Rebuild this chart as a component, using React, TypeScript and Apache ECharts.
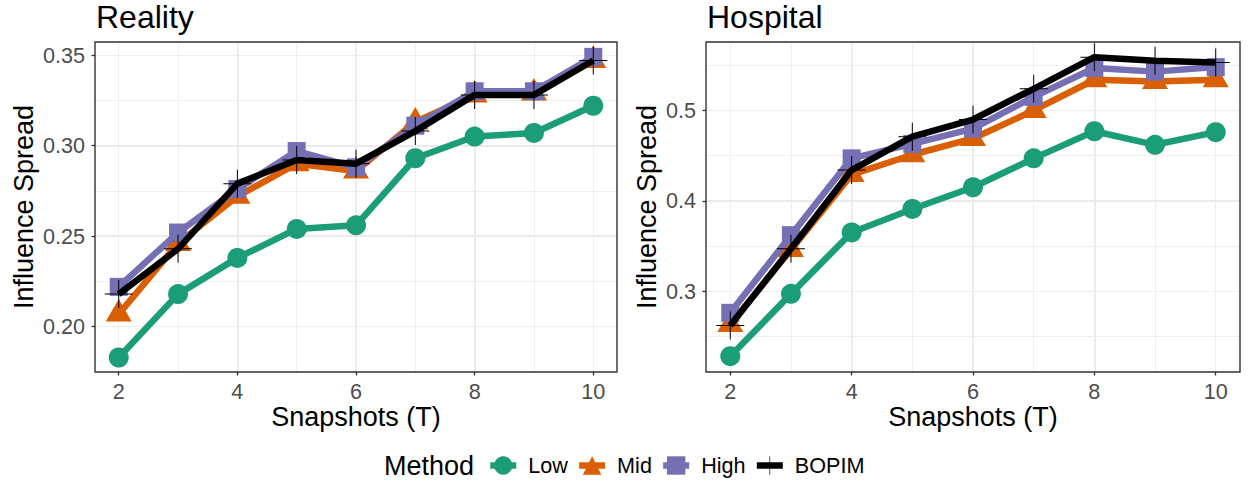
import React, { useEffect, useRef } from 'react';
import * as echarts from 'echarts';

// ---------- data ----------
const snapshots = [2, 3, 4, 5, 6, 7, 8, 9, 10];
const methods = ['Low', 'Mid', 'High', 'BOPIM'];

const realityLow = [0.183, 0.218, 0.238, 0.254, 0.256, 0.293, 0.305, 0.307, 0.322];
const realityMid = [0.207, 0.246, 0.272, 0.290, 0.286, 0.313, 0.328, 0.329, 0.347];
const realityHigh = [0.222, 0.252, 0.276, 0.297, 0.288, 0.311, 0.330, 0.330, 0.349];
const realityBopim = [0.218, 0.243, 0.279, 0.292, 0.290, 0.308, 0.328, 0.328, 0.347];

const hospitalLow = [0.228, 0.297, 0.365, 0.391, 0.415, 0.447, 0.477, 0.462, 0.476];
const hospitalMid = [0.263, 0.346, 0.429, 0.451, 0.469, 0.500, 0.534, 0.532, 0.534];
const hospitalHigh = [0.276, 0.362, 0.447, 0.463, 0.480, 0.515, 0.547, 0.543, 0.548];
const hospitalBopim = [0.262, 0.347, 0.434, 0.471, 0.490, 0.524, 0.559, 0.555, 0.553];

const xTicks = [2, 4, 6, 8, 10];
const realityYTicks = [0.2, 0.25, 0.3, 0.35];
const hospitalYTicks = [0.3, 0.4, 0.5];

const panelTitles = ['Reality', 'Hospital'];
const xTitle = 'Snapshots (T)';
const yTitle = 'Influence Spread';
const legendTitle = 'Method';

// ---------- styles ----------
const FONT = "'Liberation Sans', Arial, Helvetica, sans-serif";
const COLORS: Record<string, string> = {
  Low: '#1B9E77',
  Mid: '#D95F02',
  High: '#7570B3',
  BOPIM: '#000000',
};
const PLUS = 'path://M0,13.5H28V14.5H0Z M13.5,0H14.5V28H13.5Z';
const SYMBOLS: Record<string, any> = {
  Low: { symbol: 'circle', symbolSize: 20, symbolOffset: [0, 0] },
  Mid: { symbol: 'triangle', symbolSize: [26, 22.5], symbolOffset: [0, -3.75] },
  High: { symbol: 'rect', symbolSize: 18, symbolOffset: [0, 0] },
  BOPIM: { symbol: PLUS, symbolSize: 28, symbolOffset: [0, 0] },
};

const GRIDS = [
  { left: 95, top: 42, width: 522, height: 330 },
  { left: 706, top: 42, width: 534, height: 330 },
];
const X_EXT = [1.6, 10.4];
const Y_EXT = [
  [0.175, 0.3572],
  [0.2105, 0.5758],
];
const Y_MAJOR = [0.05, 0.1];
const Y_MINOR = [0.025, 0.05];
const Y_DEC = [2, 1];
const Y_TICKS = [realityYTicks, hospitalYTicks];

const MAJOR_GRID = { color: '#EBEBEB', width: 1.8 };
const MINOR_GRID = { color: '#EFEFEF', width: 1 };

const isMultiple = (v: number, step: number) =>
  Math.abs(v / step - Math.round(v / step)) < 1e-6;

export default function App() {
  const ref = useRef<HTMLDivElement>(null);

  useEffect(() => {
    document.body.style.margin = '0';
    if (!ref.current) return;
    const chart = echarts.init(ref.current, undefined, { renderer: 'svg' });

    const xAxes: any[] = [];
    const yAxes: any[] = [];
    // major axes (index 0,1)
    [0, 1].forEach((g) => {
      xAxes.push({
        type: 'value',
        gridIndex: g,
        min: X_EXT[0],
        max: X_EXT[1],
        minInterval: 2,
        maxInterval: 2,
        z: 1,
        axisLine: { show: false },
        axisTick: {
          show: true,
          length: 3.5,
          customValues: xTicks,
          lineStyle: { color: '#333333', width: 1.3 },
        },
        axisLabel: {
          show: true,
          margin: 8,
          customValues: xTicks,
          color: '#4D4D4D',
          fontSize: 21.6,
          fontFamily: FONT,
          formatter: (v: number) =>
            isMultiple(v, 2) && v >= 2 && v <= 10 ? String(Math.round(v)) : '',
        },
        splitLine: {
          show: true,
          showMinLine: false,
          showMaxLine: false,
          lineStyle: MAJOR_GRID,
        },
      });
      yAxes.push({
        type: 'value',
        gridIndex: g,
        min: Y_EXT[g][0],
        max: Y_EXT[g][1],
        minInterval: Y_MAJOR[g],
        maxInterval: Y_MAJOR[g],
        z: 1,
        axisLine: { show: false },
        axisTick: {
          show: true,
          length: 3.5,
          customValues: Y_TICKS[g],
          lineStyle: { color: '#333333', width: 1.3 },
        },
        axisLabel: {
          show: true,
          margin: 10,
          customValues: Y_TICKS[g],
          color: '#4D4D4D',
          fontSize: 21.6,
          fontFamily: FONT,
          formatter: (v: number) =>
            isMultiple(v, Y_MAJOR[g]) ? v.toFixed(Y_DEC[g]) : '',
        },
        splitLine: {
          show: true,
          showMinLine: false,
          showMaxLine: false,
          lineStyle: MAJOR_GRID,
        },
      });
    });
    // minor axes (index 2,3)
    [0, 1].forEach((g) => {
      xAxes.push({
        type: 'value',
        gridIndex: g,
        min: X_EXT[0],
        max: X_EXT[1],
        minInterval: 1,
        maxInterval: 1,
        z: 0,
        axisLine: { show: false },
        axisTick: { show: false },
        axisLabel: { show: false },
        splitLine: {
          show: true,
          showMinLine: false,
          showMaxLine: false,
          lineStyle: MINOR_GRID,
        },
      });
      yAxes.push({
        type: 'value',
        gridIndex: g,
        min: Y_EXT[g][0],
        max: Y_EXT[g][1],
        minInterval: Y_MINOR[g],
        maxInterval: Y_MINOR[g],
        z: 0,
        axisLine: { show: false },
        axisTick: { show: false },
        axisLabel: { show: false },
        splitLine: {
          show: true,
          showMinLine: false,
          showMaxLine: false,
          lineStyle: MINOR_GRID,
        },
      });
    });

    const panels = [
      [realityLow, realityMid, realityHigh, realityBopim],
      [hospitalLow, hospitalMid, hospitalHigh, hospitalBopim],
    ];
    const series: any[] = [];
    panels.forEach((vals, g) => {
      methods.forEach((m, i) => {
        series.push({
          type: 'line',
          name: m,
          xAxisIndex: g,
          yAxisIndex: g,
          data: snapshots.map((x, k) => [x, vals[i][k]]),
          ...SYMBOLS[m],
          showSymbol: true,
          z: 3 + i,
          silent: true,
          emphasis: { disabled: true },
          lineStyle: { color: COLORS[m], width: 6.5, join: 'round', cap: 'butt' },
          itemStyle: { color: COLORS[m], borderWidth: 0 },
        });
      });
    });

    const graphics: any[] = [];
    panelTitles.forEach((t, g) => {
      graphics.push({
        type: 'text',
        x: GRIDS[g].left + 1,
        y: 16.5,
        style: {
          text: t,
          fill: '#000000',
          font: `32px ${FONT}`,
          textAlign: 'left',
          textVerticalAlign: 'middle',
        },
      });
      graphics.push({
        type: 'text',
        x: GRIDS[g].left + GRIDS[g].width / 2,
        y: 417,
        style: {
          text: xTitle,
          fill: '#000000',
          font: `27px ${FONT}`,
          textAlign: 'center',
          textVerticalAlign: 'middle',
        },
      });
      graphics.push({
        type: 'text',
        x: g === 0 ? 23.5 : 646.5,
        y: GRIDS[g].top + GRIDS[g].height / 2,
        rotation: Math.PI / 2,
        style: {
          text: yTitle,
          fill: '#000000',
          font: `27px ${FONT}`,
          textAlign: 'center',
          textVerticalAlign: 'middle',
        },
      });
    });
    graphics.push({
      type: 'text',
      x: 384,
      y: 466,
      style: {
        text: legendTitle,
        fill: '#000000',
        font: `27px ${FONT}`,
        textAlign: 'left',
        textVerticalAlign: 'middle',
      },
    });

    chart.setOption({
      animation: false,
      backgroundColor: '#ffffff',
      grid: GRIDS.map((gr) => ({
        ...gr,
        show: true,
        z: 6,
        borderColor: '#333333',
        borderWidth: 1.4,
        backgroundColor: 'transparent',
      })),
      xAxis: xAxes,
      yAxis: yAxes,
      legend: {
        data: methods,
        left: 487,
        top: 454.5,
        padding: 0,
        itemWidth: 26,
        itemHeight: 23,
        itemGap: 8,
        selectedMode: false,
        lineStyle: { width: 6.5 },
        textStyle: {
          fontSize: 21.6,
          fontFamily: FONT,
          color: '#000000',
          padding: [0, 0, 0, 7],
        },
      },
      graphic: graphics,
      series,
    });

    return () => chart.dispose();
  }, []);

  return <div ref={ref} style={{ width: 1248, height: 486 }} />;
}
